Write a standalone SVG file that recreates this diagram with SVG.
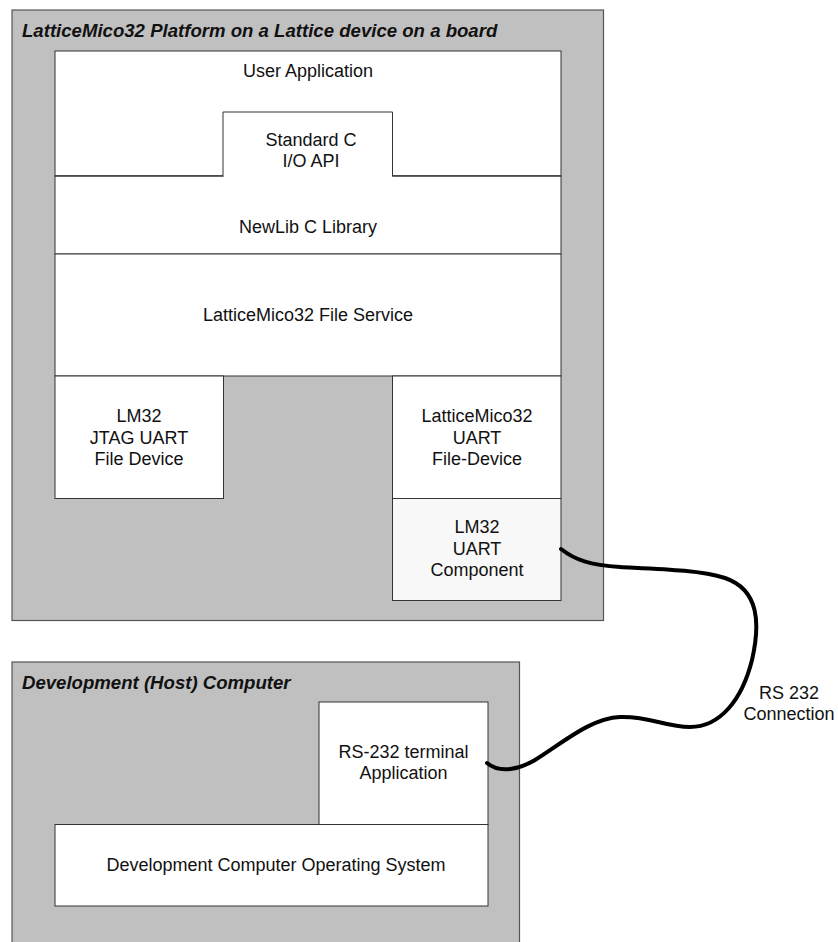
<svg xmlns="http://www.w3.org/2000/svg" width="838" height="942" viewBox="0 0 838 942">
<style>
.frame{fill:#c0c0c0;stroke:#555;stroke-width:1.2}
.box{fill:#fff;stroke:#333;stroke-width:1}
.comp{fill:#f8f8f8;stroke:#333;stroke-width:1}
text{font-family:"Liberation Sans",Arial,sans-serif;font-size:18px;fill:#111}
.c{text-anchor:middle}
.title{font-weight:bold;font-style:italic;font-size:18.6px}
.cable{fill:none;stroke:#000;stroke-width:4;stroke-linecap:round}
</style>
<rect width="838" height="942" fill="#fff"/>
<g id="platform">
<rect class="frame" x="12" y="10" width="591.5" height="610.5"/>
<text class="title" x="22" y="36.5">LatticeMico32 Platform on a Lattice device on a board</text>
</g>
<g id="user-app">
<rect class="box" x="55" y="51" width="506" height="125"/>
<text class="c" x="308" y="77">User Application</text>
</g>
<g id="newlib">
<rect class="box" x="55" y="176" width="506" height="78"/>
<text class="c" x="308" y="233">NewLib C Library</text>
</g>
<g id="stdc">
<path d="M55,176 H223 V112 H392.5 V176 H561" fill="#fff" stroke="#333" stroke-width="1"/>
<rect x="224" y="113" width="168" height="64" fill="#fff"/>
<text class="c" x="311" y="145.5">Standard C</text>
<text class="c" x="311" y="166.5">I/O API</text>
</g>
<g id="file-service">
<rect class="box" x="55" y="254" width="506" height="122"/>
<text class="c" x="308" y="321">LatticeMico32 File Service</text>
</g>
<g id="jtag">
<rect class="box" x="55" y="376" width="168.5" height="122.5"/>
<text class="c" x="139" y="422">LM32</text>
<text class="c" x="139" y="443.5">JTAG UART</text>
<text class="c" x="139" y="465">File Device</text>
</g>
<g id="uart-fd">
<rect class="box" x="392.5" y="376" width="168.5" height="122.5"/>
<text class="c" x="477" y="422">LatticeMico32</text>
<text class="c" x="477" y="443.5">UART</text>
<text class="c" x="477" y="465">File-Device</text>
</g>
<g id="uart-comp">
<rect class="comp" x="392.5" y="498.5" width="168.5" height="102"/>
<text class="c" x="477" y="533">LM32</text>
<text class="c" x="477" y="554.5">UART</text>
<text class="c" x="477" y="576">Component</text>
</g>
<g id="host">
<rect class="frame" x="12" y="662" width="507.5" height="290"/>
<text class="title" x="22" y="689">Development (Host) Computer</text>
</g>
<g id="terminal">
<rect class="box" x="319" y="702" width="169" height="122.5"/>
<text class="c" x="403.5" y="758">RS-232 terminal</text>
<text class="c" x="403.5" y="779">Application</text>
</g>
<g id="os">
<rect class="box" x="55" y="824.5" width="433" height="81.5"/>
<text class="c" x="276" y="871">Development Computer Operating System</text>
</g>
<g id="connectors">
<path class="cable" d="M561,549 C575,560 590,565 620,567 C660,569 700,570 725,578 C760,590 760,625 752,660 C742,700 720,727 690,727 C665,727 650,716 620,717 C590,718 560,745 535,760 C520,769 500,774 487,763"/>
<text class="c" x="789" y="699">RS 232</text>
<text class="c" x="789" y="719.5">Connection</text>
</g>
</svg>
